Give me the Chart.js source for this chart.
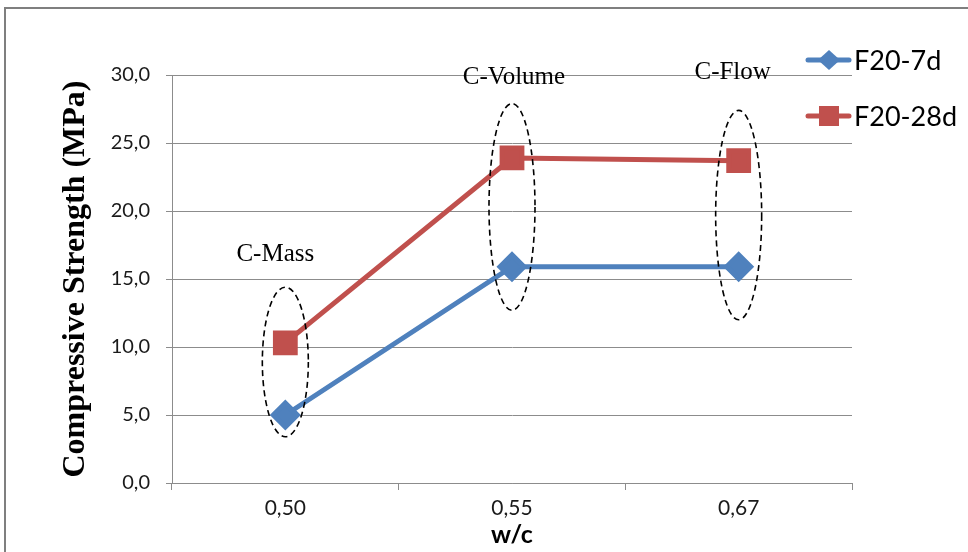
<!DOCTYPE html>
<html>
<head>
<meta charset="utf-8">
<script src="https://cdn.jsdelivr.net/npm/chart.js@4"></script>
<style>
  html, body { margin: 0; padding: 0; background: #fff; }
  #wrap { width: 968px; height: 552px; }
</style>
</head>
<body>
<div id="wrap"><canvas id="strengthChart" width="968" height="552"></canvas></div>
<script>
// w/c ratios on the x axis
const categories = ["0,50", "0,55", "0,67"];
// compressive strength, MPa
const f20_7d = [5.0, 15.9, 15.9];
const f20_28d = [10.3, 23.9, 23.7];
const seriesNames = ["F20-7d", "F20-28d"];
// group labels and the y range each dashed ring covers
const groupNames = ["C-Mass", "C-Volume", "C-Flow"];
const groupLabelY = [16.8, 29.8, 30.2];
const ringTop = [14.4, 27.9, 27.4];
const ringBottom = [3.4, 12.7, 12.0];

const BLUE = "#4F81BD";
const RED = "#C0504D";
const GRID = "#8c8c8c";
const SANS = "Lato, 'Open Sans', sans-serif";
const SERIF = "'Liberation Serif', serif";

// outer frame + group rings + labels + legend
const extras = {
    id: "extras",
    beforeDraw(chart) {
        const ctx = chart.ctx;
        ctx.save();
        ctx.strokeStyle = "#7f7f7f";
        ctx.lineWidth = 2;
        ctx.strokeRect(5, 8, 1000, 600);
        ctx.restore();
    },
    afterDraw(chart) {
        const ctx = chart.ctx;
        const x = chart.scales.x, y = chart.scales.y;
        const labelShift = [-10, 2, -6];
        ctx.save();
        groupNames.forEach((name, i) => {
            const cx = x.getPixelForValue(i);
            const top = y.getPixelForValue(ringTop[i]);
            const bot = y.getPixelForValue(ringBottom[i]);
            ctx.beginPath();
            ctx.setLineDash([6, 4]);
            ctx.strokeStyle = "#000";
            ctx.lineWidth = 1.6;
            ctx.ellipse(cx, (top + bot) / 2, 23, (bot - top) / 2, 0, 0, Math.PI * 2);
            ctx.stroke();
            ctx.setLineDash([]);
            ctx.fillStyle = "#000";
            ctx.font = "25px " + SERIF;
            ctx.textAlign = "center";
            ctx.textBaseline = "middle";
            ctx.fillText(name, cx + labelShift[i], y.getPixelForValue(groupLabelY[i]));
        });

        // legend
        const rows = [60, 116];
        chart.data.datasets.forEach((ds, i) => {
            const ly = rows[i];
            ctx.strokeStyle = ds.borderColor;
            ctx.lineWidth = 5;
            ctx.lineCap = "round";
            ctx.beginPath();
            ctx.moveTo(808, ly);
            ctx.lineTo(849, ly);
            ctx.stroke();
            ctx.fillStyle = ds.backgroundColor;
            ctx.beginPath();
            if (ds.pointStyle === "rectRot") {
                ctx.moveTo(829, ly - 10);
                ctx.lineTo(840, ly);
                ctx.lineTo(829, ly + 10);
                ctx.lineTo(818, ly);
            } else {
                ctx.rect(819, ly - 10, 20, 20);
            }
            ctx.fill();
            ctx.fillStyle = "#000";
            ctx.font = "27px " + SANS;
            ctx.textAlign = "left";
            ctx.textBaseline = "middle";
            ctx.fillText(ds.label, 854, ly + 1);
        });
        ctx.restore();
    }
};

function renderStrengthChart() {
    const ctx = document.getElementById("strengthChart").getContext("2d");
    new Chart(ctx, {
        type: "line",
        data: {
            labels: categories,
            datasets: [{
                label: seriesNames[0],
                data: f20_7d,
                borderColor: BLUE,
                backgroundColor: BLUE,
                borderWidth: 5,
                pointStyle: "rectRot",
                pointRadius: 12,
                pointHoverRadius: 12,
                tension: 0
            }, {
                label: seriesNames[1],
                data: f20_28d,
                borderColor: RED,
                backgroundColor: RED,
                borderWidth: 5,
                pointStyle: "rect",
                pointRadius: 14,
                pointHoverRadius: 14,
                tension: 0
            }]
        },
        options: {
            responsive: false,
            animation: false,
            layout: { padding: { left: 57, right: 116, top: 75, bottom: 2 } },
            plugins: {
                legend: { display: false },
                tooltip: { enabled: false }
            },
            scales: {
                x: {
                    offset: true,
                    afterFit: (s) => { s.height = 67; },
                    grid: {
                        offset: true,
                        drawOnChartArea: false,
                        tickLength: 7,
                        color: GRID
                    },
                    border: { color: GRID },
                    ticks: {
                        padding: 6,
                        color: "#1a1a1a",
                        font: { family: SANS, size: 21 }
                    },
                    title: {
                        display: true,
                        text: "w/c",
                        color: "#000",
                        padding: 0,
                        font: { family: SANS, size: 25, weight: "bold" }
                    }
                },
                y: {
                    min: 0,
                    max: 30,
                    afterFit: (s) => { s.width = 115; },
                    grid: { color: GRID, tickLength: 6 },
                    border: { color: GRID },
                    ticks: {
                        stepSize: 5,
                        padding: 16,
                        color: "#1a1a1a",
                        font: { family: SANS, size: 20 },
                        callback: (v) => v.toFixed(1).replace(".", ",")
                    },
                    title: {
                        display: true,
                        text: "Compressive Strength (MPa)",
                        color: "#000",
                        padding: 0,
                        font: { family: SERIF, size: 32, weight: "bold" }
                    }
                }
            }
        },
        plugins: [extras]
    });
}

document.addEventListener("DOMContentLoaded", renderStrengthChart);
</script>
</body>
</html>
